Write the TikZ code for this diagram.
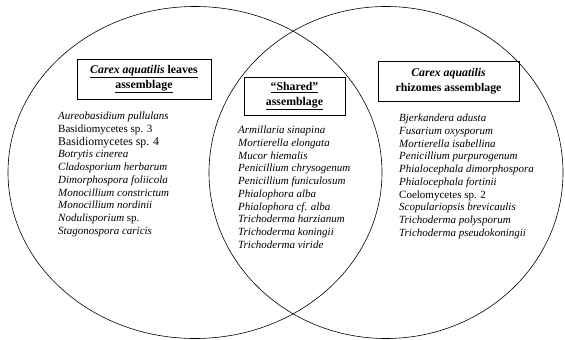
\documentclass[tikz,border=0pt]{standalone}
\usepackage{fontspec}
\setmainfont{Liberation Serif}
\usepackage{tikz}

\begin{document}
\begin{tikzpicture}[x=1pt, y=-1pt,
        header/.style={draw=black, line width=0.6pt, align=center, inner sep=0pt, font=\bfseries\fontsize{11.8}{15}\selectfont},
        species/.style={anchor=north west, align=left, inner sep=0pt, font=\fontsize{11}{12.7}\selectfont\itshape}]

        %% Frame
        \useasboundingbox (0,0) rectangle (565,340);

        %% Circles
        \draw [line width=0.6pt] (195,172.5) ellipse [x radius=187, y radius=166];
        \draw [line width=0.6pt] (386,172.5) ellipse [x radius=177, y radius=166];

        %% Headers
        \node (leaveshead) [header, minimum width=134, minimum height=40] at (144,79) {\underline{\textit{Carex aquatilis} leaves}\\ \underline{assemblage}};
        \node (sharedhead) [header, minimum width=101, minimum height=38] at (294.5,96) {\underline{“Shared”}\\ \underline{assemblage}};
        \node (rhizomeshead) [header, minimum width=141, minimum height=40] at (448.5,81) {\textit{Carex aquatilis}\\ rhizomes assemblage};

        %% Species lists
        \node (leaves) [species] at (58,112) {Aureobasidium pullulans\\ \textup{Basidiomycetes sp. 3}\\ \textup{\fontsize{11.8}{12.7}\selectfont Basidiomycetes sp. 4}\\ Botrytis cinerea\\ Cladosporium herbarum\\ Dimorphospora foliicola\\ Monocillium constrictum\\ Monocillium nordinii\\ Nodulisporium \textup{sp.}\\ Stagonospora caricis};
        \node (shared) [species] at (238,126) {Armillaria sinapina\\ Mortierella elongata\\ Mucor hiemalis\\ Penicillium chrysogenum\\ Penicillium funiculosum\\ Phialophora alba\\ Phialophora cf. alba\\ Trichoderma harzianum\\ Trichoderma koningii\\ Trichoderma viride};
        \node (rhizomes) [species] at (399,114) {Bjerkandera adusta\\ Fusarium oxysporum\\ Mortierella isabellina\\ Penicillium purpurogenum\\ Phialocephala dimorphospora\\ Phialocephala fortinii\\ \textup{Coelomycetes sp. 2}\\ Scopulariopsis brevicaulis\\ Trichoderma polysporum\\ Trichoderma pseudokoningii};

    \end{tikzpicture}
\end{document}
